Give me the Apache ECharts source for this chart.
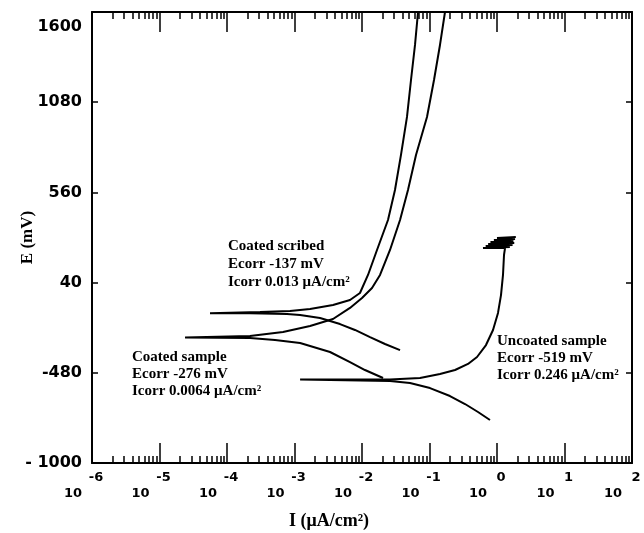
<!DOCTYPE html>
<html><head><meta charset="utf-8">
<script src="https://cdn.jsdelivr.net/npm/echarts@6/dist/echarts.min.js"></script>
<style>html,body{margin:0;padding:0;background:#fff}#c{width:644px;height:533px}</style>
</head><body><div id="c"></div>
<script>
// ---- tick values / labels ----
const xMajorValues = [1e-6, 1e-5, 1e-4, 1e-3, 1e-2, 1e-1, 1, 10, 100];
const xExponentLabels = ['-6', '-5', '-4', '-3', '-2', '-1', '0', '1', '2'];
const xMinorMultipliers = [2, 3, 4, 5, 6, 7, 8, 9];
const yTickValues = [-1000, -480, 40, 560, 1080, 1600];
const yTickLabels = ['- 1000', '-480', '40', '560', '1080', '1600'];

// ---- curve data: current density I (µA/cm²) and potential E (mV) ----
const scribedI = [0.0366, 0.0219, 0.01315, 0.00787, 0.00472, 0.00239, 0.00121, 7.74e-4, 2.19e-4, 5.6e-5,
  3.08e-4, 8.57e-4, 0.0017, 0.00372, 0.00664, 0.00933, 0.01227, 0.01668, 0.02427, 0.0308, 0.0378, 0.0464, 0.0532, 0.061, 0.0676];
const scribedE = [-349, -314, -274, -233, -199, -164, -147, -141, -137, -137,
  -130, -124, -112, -89, -60, -20, 84, 228, 401, 574, 776, 995, 1208, 1410, 1600];

const sampleI = [0.0205, 0.01107, 0.00664, 0.00336, 0.00121, 5.14e-4, 2.19e-4, 2.39e-5,
  2.19e-4, 6.76e-4, 0.0017, 0.00372, 0.00664, 0.01, 0.01407, 0.0185, 0.026, 0.0366, 0.048, 0.0631, 0.0918, 0.1166, 0.143, 0.1697];
const sampleE = [-510, -464, -418, -360, -308, -291, -279, -276,
  -268, -245, -210, -170, -106, -49, 9, 84, 228, 401, 574, 776, 995, 1208, 1410, 1600];

const uncoatedI = [0.787, 0.523, 0.336, 0.201, 0.1017, 0.0514, 0.026, 0.00121,
  0.026, 0.0723, 0.143, 0.239, 0.372, 0.506, 0.687, 0.873, 1.035, 1.146, 1.227, 1.27, 1.315,
  0.62, 1.55, 0.68, 1.7, 0.74, 1.8, 0.8, 1.75, 0.9, 1.85, 1.0, 1.9];
const uncoatedE = [-752, -706, -660, -614, -568, -539, -527, -519,
  -519, -510, -487, -464, -429, -389, -320, -233, -135, -32, 84, 199, 239,
  239, 245, 251, 257, 263, 268, 274, 280, 286, 292, 297, 303];

const zip = (a, b) => a.map((v, i) => [v, b[i]]);
const xMinorValues = [];
for (let d = 0; d < xMajorValues.length - 1; d++) {
  xMinorMultipliers.forEach(m => xMinorValues.push(m * xMajorValues[d]));
}
const expIndex = v => xMajorValues.findIndex(t => Math.abs(Math.log10(t) - Math.log10(v)) < 1e-6);

const chart = echarts.init(document.getElementById('c'), null, {renderer: 'canvas'});
const lineCol = '#000';
const baseLog = {type: 'log', logBase: 10, min: 1e-6, max: 100, gridIndex: 0, splitLine: {show: false}};

const option = {
  animation: false,
  backgroundColor: '#fff',
  grid: {left: 92, right: 12, top: 12, bottom: 70, containLabel: false, outerBoundsMode: 'none'},
  xAxis: [
    Object.assign({}, baseLog, {
      position: 'bottom',
      axisLine: {show: true, onZero: false, lineStyle: {color: lineCol, width: 2}},
      axisTick: {show: true, inside: true, length: 20, customValues: xMajorValues, lineStyle: {color: lineCol, width: 1.5}},
      axisLabel: {show: true, customValues: xMajorValues, margin: 24, align: 'right', padding: [0, 10, 0, 0],
        fontFamily: 'DejaVu Sans', fontWeight: 'bold', fontSize: 13, color: '#000',
        formatter: () => '10'},
      name: 'I (μA/cm²)', nameLocation: 'middle', nameGap: 49, nameMoveOverlap: false,
      nameTextStyle: {fontFamily: 'Liberation Serif', fontWeight: 'bold', fontSize: 18, color: '#000', padding: [0, 66, 0, 0]}
    }),
    Object.assign({}, baseLog, {
      position: 'bottom',
      axisLine: {show: false, onZero: false},
      axisTick: {show: true, inside: true, length: 7, customValues: xMinorValues, lineStyle: {color: lineCol, width: 1.5}},
      axisLabel: {show: true, customValues: xMajorValues, margin: 8, align: 'center', padding: [0, 0, 0, 8],
        fontFamily: 'DejaVu Sans', fontWeight: 'bold', fontSize: 13, color: '#000',
        formatter: v => xExponentLabels[expIndex(v)]}
    }),
    Object.assign({}, baseLog, {
      position: 'top',
      axisLine: {show: true, onZero: false, lineStyle: {color: lineCol, width: 2}},
      axisTick: {show: true, inside: true, length: 20, customValues: xMajorValues, lineStyle: {color: lineCol, width: 1.5}},
      axisLabel: {show: false}
    }),
    Object.assign({}, baseLog, {
      position: 'top',
      axisLine: {show: false, onZero: false},
      axisTick: {show: true, inside: true, length: 7, customValues: xMinorValues, lineStyle: {color: lineCol, width: 1.5}},
      axisLabel: {show: false}
    })
  ],
  yAxis: [
    {
      type: 'value', min: -1000, max: 1600, position: 'left', splitLine: {show: false},
      axisLine: {show: true, onZero: false, lineStyle: {color: lineCol, width: 2}},
      axisTick: {show: true, inside: true, length: 6, customValues: yTickValues, lineStyle: {color: lineCol, width: 1.5}},
      axisLabel: {show: true, customValues: yTickValues, margin: 10,
        fontFamily: 'DejaVu Sans', fontWeight: 'bold', fontSize: 16, color: '#000',
        formatter: v => {
          const i = yTickValues.indexOf(v);
          const t = i >= 0 ? yTickLabels[i] : String(v);
          return v === 1600 ? '{t|' + t + '}' : t;
        },
        rich: {t: {fontFamily: 'DejaVu Sans', fontWeight: 'bold', fontSize: 16, color: '#000', padding: [30, 0, 0, 0]}}
      },
      name: 'E (mV)', nameLocation: 'middle', nameGap: 56, nameMoveOverlap: false,
      nameTextStyle: {fontFamily: 'Liberation Serif', fontWeight: 'bold', fontSize: 17, color: '#000'}
    },
    {
      type: 'value', min: -1000, max: 1600, position: 'right', splitLine: {show: false},
      axisLine: {show: true, onZero: false, lineStyle: {color: lineCol, width: 2}},
      axisTick: {show: true, inside: true, length: 6, customValues: yTickValues, lineStyle: {color: lineCol, width: 1.5}},
      axisLabel: {show: false}
    }
  ],
  series: [
    {name: 'Coated scribed', type: 'line', data: zip(scribedI, scribedE)},
    {name: 'Coated sample', type: 'line', data: zip(sampleI, sampleE)},
    {name: 'Uncoated sample', type: 'line', data: zip(uncoatedI, uncoatedE)}
  ].map(s => Object.assign(s, {xAxisIndex: 0, yAxisIndex: 0, showSymbol: false, symbol: 'none', smooth: false,
    lineStyle: {color: '#000', width: 2}, clip: true})),
  graphic: [
    {type: 'text', left: 228, top: 237, style: {text: 'Coated scribed\nEcorr -137 mV\nIcorr 0.013 μA/cm²',
      font: 'bold 15px "Liberation Serif"', lineHeight: 18, fill: '#000'}},
    {type: 'text', left: 132, top: 349, style: {text: 'Coated sample\nEcorr -276 mV\nIcorr 0.0064 μA/cm²',
      font: 'bold 15px "Liberation Serif"', lineHeight: 17, fill: '#000'}},
    {type: 'text', left: 497, top: 333, style: {text: 'Uncoated sample\nEcorr -519 mV\nIcorr 0.246 μA/cm²',
      font: 'bold 15px "Liberation Serif"', lineHeight: 17, fill: '#000'}}
  ]
};
chart.setOption(option);
</script>
</body></html>
